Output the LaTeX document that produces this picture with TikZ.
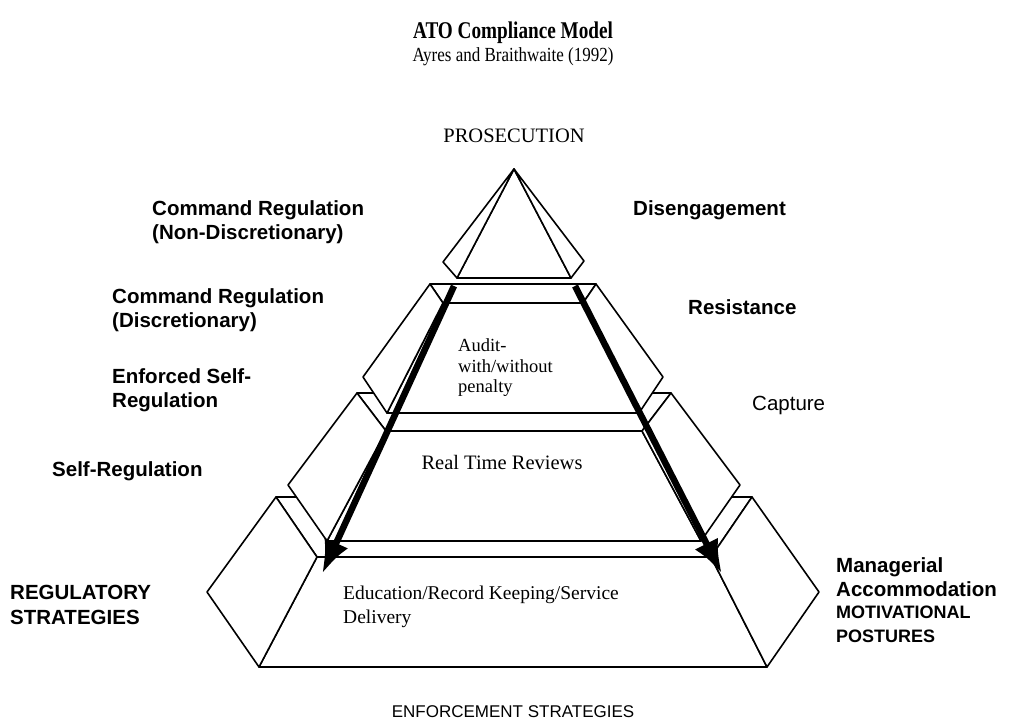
\documentclass[tikz,border=0pt]{standalone}
\usepackage{fontspec}
\setmainfont{Liberation Serif}
\setsansfont{Liberation Sans}
\usetikzlibrary{arrows.meta}
\tikzset{
  face/.style={draw, fill=white, line width=1.6pt, line join=round},
  push/.style={line width=6.5pt, -{Latex[length=34pt,width=26pt]}},
  side/.style={font=\sffamily\bfseries\fontsize{20.5}{24.5}\selectfont, anchor=west, align=left, inner sep=0pt},
  sideplain/.style={font=\sffamily\fontsize{20.5}{24.5}\selectfont, anchor=west, inner sep=0pt},
  inside/.style={font=\fontsize{18.5}{20.5}\selectfont, align=left, inner sep=0pt},
}

\begin{document}
\begin{tikzpicture}[x=1pt, y=-1pt]
  \useasboundingbox (0,0) rectangle (1023,727);

  % bottom tier
  \draw[face] (276,497) -- (752,497) -- (711,557) -- (317,557) -- cycle;
  \draw[face] (317,557) -- (711,557) -- (767,667) -- (259,667) -- cycle;
  \draw[face] (276,497) -- (207,592) -- (259,667) -- (317,557) -- cycle;
  \draw[face] (752,497) -- (819,592) -- (767,667) -- (711,557) -- cycle;
  % third tier
  \draw[face] (357,393) -- (671,393) -- (642,431) -- (386,431) -- cycle;
  \draw[face] (386,431) -- (642,431) -- (701,541) -- (327,541) -- cycle;
  \draw[face] (357,393) -- (288,485) -- (327,541) -- (386,431) -- cycle;
  \draw[face] (671,393) -- (740,485) -- (701,541) -- (642,431) -- cycle;
  % second tier
  \draw[face] (430,284) -- (596,284) -- (583,303) -- (443,303) -- cycle;
  \draw[face] (443,303) -- (583,303) -- (639,413) -- (387,413) -- cycle;
  \draw[face] (430,284) -- (363,377) -- (387,413) -- (443,303) -- cycle;
  \draw[face] (596,284) -- (663,377) -- (639,413) -- (583,303) -- cycle;
  % apex
  \draw[face] (514,169) -- (571,278) -- (457,278) -- cycle;
  \draw[face] (514,169) -- (443,262) -- (457,278) -- cycle;
  \draw[face] (514,169) -- (584,261) -- (571,278) -- cycle;

  \coordinate (lefttop) at (454,286);
  \coordinate (leftend) at (322,574);
  \coordinate (righttop) at (575,286);
  \coordinate (rightend) at (722,574);
  \draw[push] (lefttop) -- (leftend);
  \draw[push] (righttop) -- (rightend);

  \node[font=\bfseries\fontsize{24}{28}\selectfont] (title) at (513,33) {\scalebox{0.8}[1]{ATO Compliance Model}};
  \node[font=\fontsize{20}{24}\selectfont] (source) at (513,57) {\scalebox{0.85}[1]{Ayres and Braithwaite (1992)}};
  \node[font=\fontsize{20.5}{24}\selectfont] (prosecution) at (514,136) {PROSECUTION};

  \node[inside, anchor=west] (audit) at (458,368) {Audit-\\with/without\\penalty};
  \node[font=\fontsize{20.5}{24}\selectfont] (reviews) at (502,462) {Real Time Reviews};
  \node[inside, anchor=west, font=\fontsize{19.5}{24}\selectfont] (education) at (343,607) {Education/Record Keeping/Service\\Delivery};

  \node[side] (cmdnd) at (152,222) {Command Regulation\\(Non-Discretionary)};
  \node[side] (cmdd) at (112,310) {Command Regulation\\(Discretionary)};
  \node[side] (enforced) at (112,390) {Enforced Self-\\Regulation};
  \node[side] (selfreg) at (52,471) {Self-Regulation};
  \node[side] (regstrat) at (10,605) {REGULATORY\\STRATEGIES};

  \node[side] (disengage) at (633,210) {Disengagement};
  \node[side] (resist) at (688,307) {Resistance};
  \node[sideplain] (capture) at (752,405) {Capture};
  \node[side] (managerial) at (836,577) {Managerial\\Accommodation};
  \node[side, font=\sffamily\bfseries\fontsize{18}{24}\selectfont] (motiv) at (836,624) {MOTIVATIONAL\\POSTURES};

  \node[font=\sffamily\fontsize{17}{20}\selectfont] (enforcement) at (513,712) {ENFORCEMENT STRATEGIES};
\end{tikzpicture}
\end{document}
